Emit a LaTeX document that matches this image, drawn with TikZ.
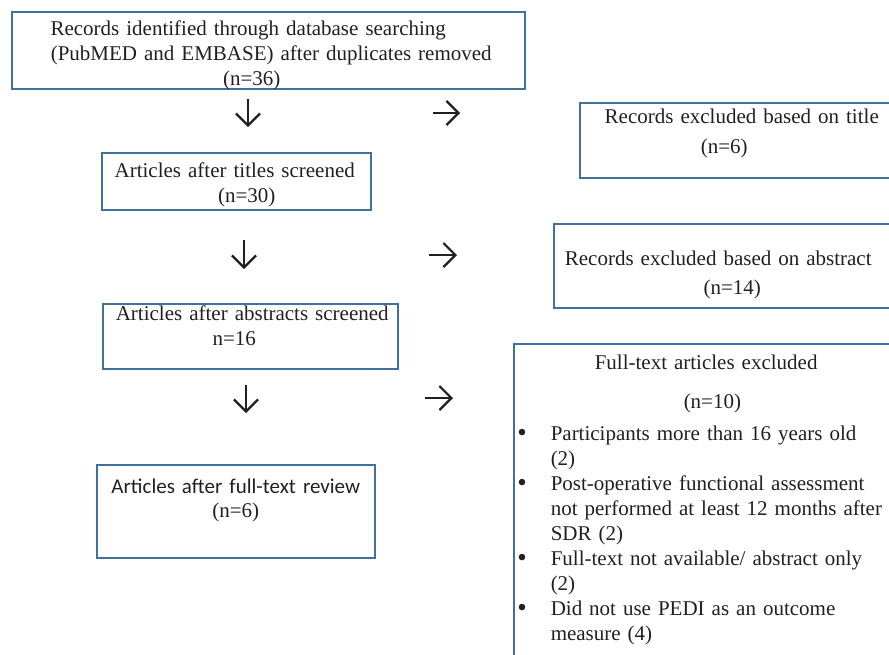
\documentclass[tikz,border=0pt]{standalone}
\usepackage{fontspec}
\setmainfont{Liberation Serif}
\newfontfamily\calibri{Carlito}
\usetikzlibrary{arrows.meta,positioning}
\definecolor{boxblue}{RGB}{65,113,156}
\definecolor{inkgray}{RGB}{35,31,32}

\tikzset{
  recbox/.style={draw=boxblue,line width=1.5pt,inner sep=0pt,align=center,
                 anchor=north west,text=inkgray,font=\fontsize{21}{25}\selectfont},
  flowarrow/.style={draw=inkgray,line width=2.2pt,-{Straight Barb[length=12pt,width=24pt]}}
}
\newcommand{\bulitem}{\makebox[37pt][l]{\hspace*{3.5pt}\raisebox{-1pt}{\fontsize{27}{25}\selectfont\textbullet}}}
\newcommand{\bulcont}{\hspace*{37pt}}

\begin{document}
\begin{tikzpicture}[x=1pt,y=-1pt]
            \useasboundingbox (0,0) rectangle (889,654);
            \clip (0,0) rectangle (889,654);
            % left column
            \node[recbox,text width=513pt,text height=24pt,text depth=53pt] (search) at (11,11) {
                \hspace*{-40pt}Records identified through database searching\\
                \hspace*{6pt}(PubMED and EMBASE) after duplicates removed\\
                \hspace*{-33pt}(n=36)
            };
            \node[recbox,text width=269pt,text height=25pt,text depth=32pt] (titles) at (101,152) {
                \hspace*{-3pt}Articles after titles screened\\
                \hspace*{21pt}(n=30)
            };
            \node[recbox,text width=295pt,text height=17pt,text depth=48pt] (abstracts) at (102,303) {
                \hspace*{4pt}Articles after abstracts screened\\
                \hspace*{-32pt}n=16
            };
            \node[recbox,text width=278pt,text height=29pt,text depth=64pt] (review) at (96,464) {
                {\calibri Articles after full-text review}\\[-1pt]
                (n=6)
            };
            % right column
            \node[recbox,text width=324pt,text height=21pt,text depth=54pt] (titleex) at (579,102) {
                Records excluded based on title\\[5pt]
                \hspace*{-35pt}(n=6)
            };
            \node[recbox,text width=360pt,text height=42pt,text depth=42pt] (abstractex) at (553,223) {
                \hspace*{-31pt}Records excluded based on abstract\\[4pt]
                \hspace*{-3pt}(n=14)
            };
            \node[recbox,align=left,text width=390pt,text height=26pt,text depth=300pt] (fulltextex) at (513,343) {
                \hspace*{81pt}Full-text articles excluded\\[14pt]
                \hspace*{170pt}(n=10)\\[7pt]
                \bulitem Participants more than 16 years old\\
                \bulcont (2)\\
                \bulitem Post-operative functional assessment\\
                \bulcont not performed at least 12 months after\\
                \bulcont SDR (2)\\
                \bulitem Full-text not available/ abstract only\\
                \bulcont (2)\\
                \bulitem Did not use PEDI as an outcome\\
                \bulcont measure (4)
            };
            % arrows
            \coordinate (down1a) at (248,99);  \coordinate (down1b) at (248,127);
            \coordinate (down2a) at (244,240); \coordinate (down2b) at (244,269);
            \coordinate (down3a) at (246,385); \coordinate (down3b) at (246,413);
            \coordinate (right1a) at (433,113); \coordinate (right1b) at (460,113);
            \coordinate (right2a) at (429,255); \coordinate (right2b) at (457,255);
            \coordinate (right3a) at (425,398); \coordinate (right3b) at (453,398);
            \draw[flowarrow] (down1a) -- (down1b);
            \draw[flowarrow] (down2a) -- (down2b);
            \draw[flowarrow] (down3a) -- (down3b);
            \draw[flowarrow] (right1a) -- (right1b);
            \draw[flowarrow] (right2a) -- (right2b);
            \draw[flowarrow] (right3a) -- (right3b);
        \end{tikzpicture}
\end{document}
